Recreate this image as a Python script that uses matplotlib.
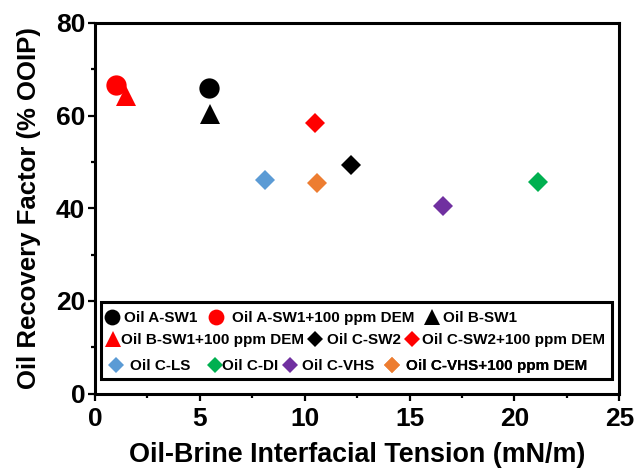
import matplotlib
matplotlib.use("Agg")
import matplotlib.pyplot as plt
from matplotlib.patches import Rectangle
from matplotlib.ticker import MultipleLocator

plt.rcParams['font.family'] = ['Liberation Sans', 'DejaVu Sans']
plt.rcParams['font.weight'] = 'bold'

# Interfacial tension (mN/m) and oil recovery (% OOIP) for each oil/brine system
labels = ["Oil A-SW1", "Oil A-SW1+100 ppm DEM", "Oil B-SW1",
          "Oil B-SW1+100 ppm DEM", "Oil C-SW2", "Oil C-SW2+100 ppm DEM",
          "Oil C-LS", "Oil C-DI", "Oil C-VHS", "Oil C-VHS+100 ppm DEM"]
ift = [5.45, 1.0, 5.5, 1.5, 12.2, 10.5, 8.1, 21.1, 16.6, 10.6]
recovery = [66.0, 66.6, 60.3, 64.2, 49.3, 58.3, 46.2, 45.7, 40.4, 45.4]
markers = ["o", "o", "^", "^", "D", "D", "D", "D", "D", "D"]
colors = ["#000000", "#FF0000", "#000000", "#FF0000", "#000000", "#FF0000",
          "#5B9BD5", "#00B050", "#7030A0", "#ED7D31"]
sizes = [14.6, 14.6, 14.6, 14.6, 10.2, 10.2, 10.2, 10.2, 10.2, 10.2]

W, H, DPI = 636, 472, 100
AX_L, AX_B, AX_W, AX_H = 95, 393.5, 524.3, 370.5   # axes box in pixels

fig = plt.figure(figsize=(W / DPI, H / DPI), dpi=DPI)
ax = fig.add_axes([AX_L / W, 1 - AX_B / H, AX_W / W, AX_H / H])

handles = []
for x, y, m, c, s, lab in zip(ift, recovery, markers, colors, sizes, labels):
    h, = ax.plot([x], [y], linestyle="none", marker=m, color=c,
                 markersize=s, markeredgewidth=0, label=lab)
    handles.append(h)

ax.set_xlim(0, 25)
ax.set_ylim(0, 80)
ax.xaxis.set_major_locator(MultipleLocator(5))
ax.xaxis.set_minor_locator(MultipleLocator(2.5))
ax.yaxis.set_major_locator(MultipleLocator(20))
ax.yaxis.set_minor_locator(MultipleLocator(10))
ax.tick_params(which="major", direction="out", length=5, width=1.6,
               labelsize=19)
ax.tick_params(axis="x", which="major", pad=5)
ax.tick_params(axis="y", which="major", pad=2)
ax.tick_params(which="minor", direction="out", length=3, width=1.6)
for sp in ax.spines.values():
    sp.set_linewidth(2.2)

ax.set_xlabel("Oil-Brine Interfacial Tension (mN/m)", fontsize=19.4,
              fontweight="bold", labelpad=8)
ax.set_ylabel("Oil Recovery Factor (% OOIP)", fontsize=18.5,
              fontweight="bold", labelpad=11)

# Legend frame
ax.add_patch(Rectangle(((101 - AX_L) / AX_W, (AX_B - 379) / AX_H),
                       511 / AX_W, 77.3 / AX_H, transform=ax.transAxes,
                       fill=False, edgecolor="black", linewidth=2.2,
                       zorder=5, clip_on=False))

# Legend entries: row centre (px), marker centre x (px), text start x (px)
LEG_FS = 11
fs_px = LEG_FS * DPI / 72
hl = 0.9
row_y = [318.3, 318.3, 318.3, 340, 340, 340, 366, 366, 366, 366]
mark_x = [112.3, 216, 432, 112.7, 315, 411.7, 115.7, 215, 290, 391.7]
text_x = [124, 231.7, 443, 120.7, 326.7, 421.7, 130, 221.7, 301.7, 406]
for h, ry, mx, tx in zip(handles, row_y, mark_x, text_x):
    left = mx - hl * fs_px / 2
    pad = (tx - left - hl * fs_px) / fs_px
    leg = ax.legend(handles=[h], loc="center left",
                    bbox_to_anchor=((left - AX_L) / AX_W, (AX_B - ry) / AX_H),
                    frameon=False, borderpad=0, borderaxespad=0,
                    handlelength=hl, handletextpad=pad, markerscale=0.78,
                    prop={"weight": "bold", "size": LEG_FS})
    ax.add_artist(leg)

fig.savefig("out.png", dpi=DPI)
